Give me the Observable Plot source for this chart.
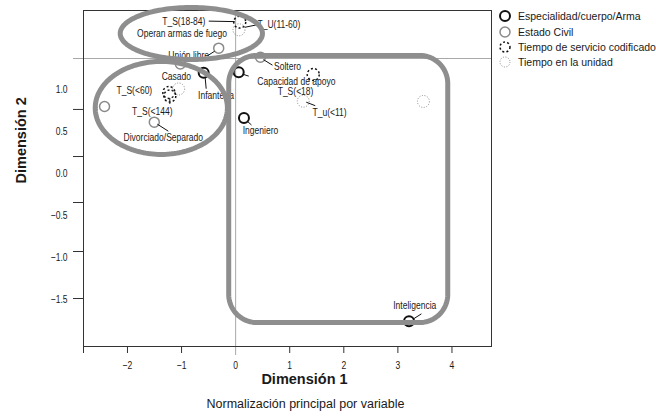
<!DOCTYPE html>
<html><head><meta charset="utf-8">
<script src="https://cdn.jsdelivr.net/npm/d3@7"></script>
<script src="https://cdn.jsdelivr.net/npm/@observablehq/plot@0.6"></script>
<style>
body{margin:0;background:#fff;}
#wrap{position:relative;width:656px;height:418px;overflow:hidden;background:#fff;}
#legend{position:absolute;left:497px;top:0;font:10.5px "Liberation Sans",Arial,sans-serif;color:#1a1a1a;white-space:nowrap;}
#legend .row{position:absolute;left:0;height:14px;line-height:14px;}
#legend svg{position:absolute;left:1px;top:0;}
#legend span{position:absolute;left:21px;top:0;}
</style></head><body>
<div id="wrap"><div id="chart"></div><div id="legend"></div></div>
<script>
// ---------------- data ----------------
const especialidadNames = ["Infantería", "Capacidad de apoyo", "Ingeniero", "Inteligencia"];
const especialidadX = [-0.591, 0.057, 0.154, 3.206];
const especialidadY = [1.194, 1.201, 0.657, -1.757];

const civilNames = ["Unión libre", "Casado", "Soltero", "Divorciado/Separado", ""];
const civilX = [-0.313, -1.022, 0.459, -1.504, -2.424];
const civilY = [1.486, 1.298, 1.379, 0.607, 0.793];

const servicioNames = ["T_S(18-84)", "T_S(<60)", "T_S(<144)", "T_S(<18)"];
const servicioX = [0.076, -1.235, -1.217, 1.435];
const servicioY = [1.795, 0.960, 0.918, 1.173];

const unidadNames = ["T_U(11-60)", "", "T_u(<11)", ""];
const unidadX = [0.061, -1.054, 1.250, 3.472];
const unidadY = [1.704, 1.001, 0.856, 0.853];

const extraLabelNames = ["Operan armas de fuego"];
const extraLabelX = [-0.991];
const extraLabelY = [1.657];

const legendLabels = ["Especialidad/cuerpo/Arma", "Estado Civil", "Tiempo de servicio codificado", "Tiempo en la unidad"];

const xTickLabels = [-2, -1, 0, 1, 2, 3, 4];
const yTickLabels = [1.0, 0.5, 0.0, -0.5, -1.0, -1.5];
const yTickMarks = [0.758, 0.199, -0.347, -0.929, -1.487];
const refX = 0;
const refY = 1.363;

const xTitle = "Dimensión 1";
const yTitle = "Dimensión 2";
const caption = "Normalización principal por variable";

// ---------------- layout (pixels / styles) ----------------
const W = 656, H = 418;
const M = {top: 10, right: 165, bottom: 72, left: 83};
const xDomain = [-2.813, 4.731];
const yDomain = [-2.057, 1.933];
const kx = (W - M.left - M.right) / (xDomain[1] - xDomain[0]);
const ky = (H - M.top - M.bottom) / (yDomain[1] - yDomain[0]);
const condense = 0.775;
const smallSize = 11;

// label offsets in px from the point (dx right, dy down) and leader lines [x1,y1,x2,y2] in px
const labelLayout = {
  "Infantería": {dx: 12.4, dy: 22.7, leader: [1.5, 5, 2.5, 16]},
  "Capacidad de apoyo": {dx: 57.7, dy: 9, leader: [4, 2, 10, 4]},
  "Ingeniero": {dx: 16.5, dy: 12.5, leader: [3, 3, 7.5, 7]},
  "Inteligencia": {dx: 5.7, dy: -15.7, leader: [5, -2.7, 12.4, -7.4]},
  "Unión libre": {dx: -30, dy: 7.3, leader: [-4, 3, -11, 7.5]},
  "Casado": {dx: -4, dy: 12.5},
  "Soltero": {dx: 27, dy: 9.3, leader: [3, 2.5, 12, 8]},
  "Divorciado/Separado": {dx: 9, dy: 15.3, leader: [3, 2, 14, 9]},
  "T_S(18-84)": {dx: -56, dy: -1, leader: [-31, -1, -5, -0.5]},
  "T_S(<60)": {dx: -34.5, dy: -2},
  "T_S(<144)": {dx: -17.5, dy: 15.2, leader: [0, 2, 0, 8]},
  "T_S(<18)": {dx: -17.7, dy: 16.7},
  "T_U(11-60)": {dx: 40, dy: -5.3, leader: [6, -2.5, 18, -5]},
  "T_u(<11)": {dx: 26.3, dy: 11, leader: [3, 1, 12, 4.5]}
};

const styles = {
  esp: {r: 5, stroke: "#111", strokeWidth: 2},
  civil: {r: 5, stroke: "#8a8a8a", strokeWidth: 1.5},
  servicio: {r: 6, stroke: "#111", strokeWidth: 1.5, strokeDasharray: "2,2.2"},
  unidad: {r: 6, stroke: "#8a8a8a", strokeWidth: 1, strokeDasharray: "1,1.6"}
};

// annotation shapes in data units (radius of rounded rect in px)
const shapes = [
  {id: "top", type: "ellipse", cx: -0.819, cy: 1.660, rx: 1.315, ry: 0.309},
  {id: "left", type: "ellipse", cx: -1.374, cy: 0.776, rx: 1.222, ry: 0.552},
  {id: "rect", type: "roundrect", x1: -0.128, x2: 3.922, y1: 1.399, y2: -1.772, r: 28}
];

// ---------------- build tables ----------------
function group(names, xs, ys, key) {
  return names.map((n, i) => ({name: n, x: xs[i], y: ys[i], group: key}));
}
const esp = group(especialidadNames, especialidadX, especialidadY, "esp");
const civil = group(civilNames, civilX, civilY, "civil");
const servicio = group(servicioNames, servicioX, servicioY, "servicio");
const unidad = group(unidadNames, unidadX, unidadY, "unidad");
const allPts = [...esp, ...civil, ...servicio, ...unidad];

const labels = allPts.filter(d => d.name && labelLayout[d.name]).map(d => ({
  text: d.name,
  x: d.x + labelLayout[d.name].dx / kx,
  y: d.y - labelLayout[d.name].dy / ky
}));
extraLabelNames.forEach((n, i) => labels.push({text: n, x: extraLabelX[i], y: extraLabelY[i]}));

const leaders = allPts.filter(d => d.name && labelLayout[d.name] && labelLayout[d.name].leader).map(d => {
  const l = labelLayout[d.name].leader;
  return {x1: d.x + l[0] / kx, y1: d.y - l[1] / ky, x2: d.x + l[2] / kx, y2: d.y - l[3] / ky};
});

const shapePts = [];
shapes.forEach(s => {
  if (s.type === "ellipse") {
    for (let i = 0; i <= 160; i++) {
      const t = i / 160 * 2 * Math.PI;
      shapePts.push({id: s.id, x: s.cx + s.rx * Math.cos(t), y: s.cy + s.ry * Math.sin(t)});
    }
  } else {
    const rx = s.r / kx, ry = s.r / ky;
    const corners = [[s.x2 - rx, s.y1 - ry, 0], [s.x1 + rx, s.y1 - ry, 90], [s.x1 + rx, s.y2 + ry, 180], [s.x2 - rx, s.y2 + ry, 270]];
    corners.forEach(([cx, cy, a0]) => {
      for (let i = 0; i <= 20; i++) {
        const t = (a0 + i / 20 * 90) * Math.PI / 180;
        shapePts.push({id: s.id, x: cx + rx * Math.cos(t), y: cy + ry * Math.sin(t)});
      }
    });
    shapePts.push({id: s.id, x: s.x2, y: s.y1 - ry});
  }
});

const regular = "'Liberation Sans',Arial,sans-serif";

const dotMark = (data, st) => Plot.dot(data, {x: "x", y: "y", fill: "none", ...st});

const chart = Plot.plot({
  width: W, height: H,
  marginTop: M.top, marginRight: M.right, marginBottom: M.bottom, marginLeft: M.left,
  x: {domain: xDomain, axis: null},
  y: {domain: yDomain, axis: null},
  style: {fontFamily: regular, fontSize: smallSize + "px", color: "#1a1a1a", background: "#fff"},
  marks: [
    Plot.ruleX([refX], {stroke: "#a8a8a8", strokeWidth: 1}),
    Plot.ruleY([refY], {stroke: "#a8a8a8", strokeWidth: 1}),
    Plot.axisX({ticks: [refX], tickSize: 9, stroke: "#a8a8a8", tickFormat: () => ""}),
    Plot.axisY({ticks: [refY], tickSize: 10, stroke: "#a8a8a8", tickFormat: () => ""}),
    Plot.frame({stroke: "#333", strokeWidth: 1}),
    Plot.axisX({ticks: [xDomain[0], ...xTickLabels.filter(v => v !== 0)], tickSize: 7, stroke: "#333", tickFormat: () => ""}),
    Plot.axisX({ticks: xTickLabels, tickSize: 0, tickPadding: 15, tickFormat: d3.format("d"), fontSize: smallSize}),
    Plot.axisY({ticks: yTickMarks, tickSize: 10, stroke: "#333", tickFormat: () => ""}),
    Plot.axisY({ticks: yTickLabels, tickSize: 0, tickPadding: 16, tickFormat: d3.format(".1f"), fontSize: smallSize}),
    dotMark(esp, styles.esp),
    dotMark(civil, styles.civil),
    dotMark(servicio, styles.servicio),
    dotMark(unidad, styles.unidad),
    Plot.link(leaders, {x1: "x1", y1: "y1", x2: "x2", y2: "y2", stroke: "#111", strokeWidth: 1}),
    Plot.text(labels, {x: "x", y: "y", text: "text", fontSize: smallSize, fill: "#1a1a1a"}),
    Plot.line(shapePts, {x: "x", y: "y", z: "id", stroke: "#8e8e8e", strokeWidth: 5, strokeLinejoin: "round"}),
    Plot.text([xTitle], {frameAnchor: "bottom", dx: 17, dy: 37, fontWeight: "bold", fontSize: 14.5, fill: "#1a1a1a"}),
    Plot.text([yTitle], {frameAnchor: "left", dx: -62, dy: 5, rotate: -90, fontWeight: "bold", fontSize: 14.5, fill: "#1a1a1a"}),
    Plot.text([caption], {frameAnchor: "bottom", dx: 18, dy: 61, fontSize: 12.5, fill: "#1a1a1a"})
  ]
});
document.getElementById("chart").appendChild(chart);

// condensed look of the reference's small texts (horizontal squeeze around each text anchor)
const keepWide = new Set([xTitle, yTitle, caption]);
d3.select(chart)
  .selectAll("text")
  .filter(function () { return !keepWide.has(this.textContent) && this.textContent !== ""; })
  .each(function () {
    const xa = this.getAttribute("x");
    let shift = "";
    if (xa !== null && /^-?[\d.]+$/.test(xa) && +xa !== 0) {
      shift = ` translate(${+xa},0)`;
      this.removeAttribute("x");
    }
    const tr = this.getAttribute("transform") || "";
    this.setAttribute("transform", `${tr}${shift} scale(${condense},1)`);
  });

// ---------------- legend (HTML, beside the plot) ----------------
const legendRows = [16, 31.5, 46.5, 61.5];
const legendStyles = [styles.esp, styles.civil, styles.servicio, styles.unidad];
const legend = document.getElementById("legend");
legendLabels.forEach((lab, i) => {
  const st = legendStyles[i];
  const row = document.createElement("div");
  row.className = "row";
  row.style.top = (legendRows[i] - 7) + "px";
  row.innerHTML = `<svg width="16" height="14"><circle cx="7" cy="7" r="${Math.min(st.r, 5)}" fill="none" stroke="${st.stroke}" stroke-width="${st.strokeWidth}" ${st.strokeDasharray ? `stroke-dasharray="${st.strokeDasharray}"` : ""}/></svg><span></span>`;
  row.querySelector("span").textContent = lab;
  legend.appendChild(row);
});
</script>
</body></html>
